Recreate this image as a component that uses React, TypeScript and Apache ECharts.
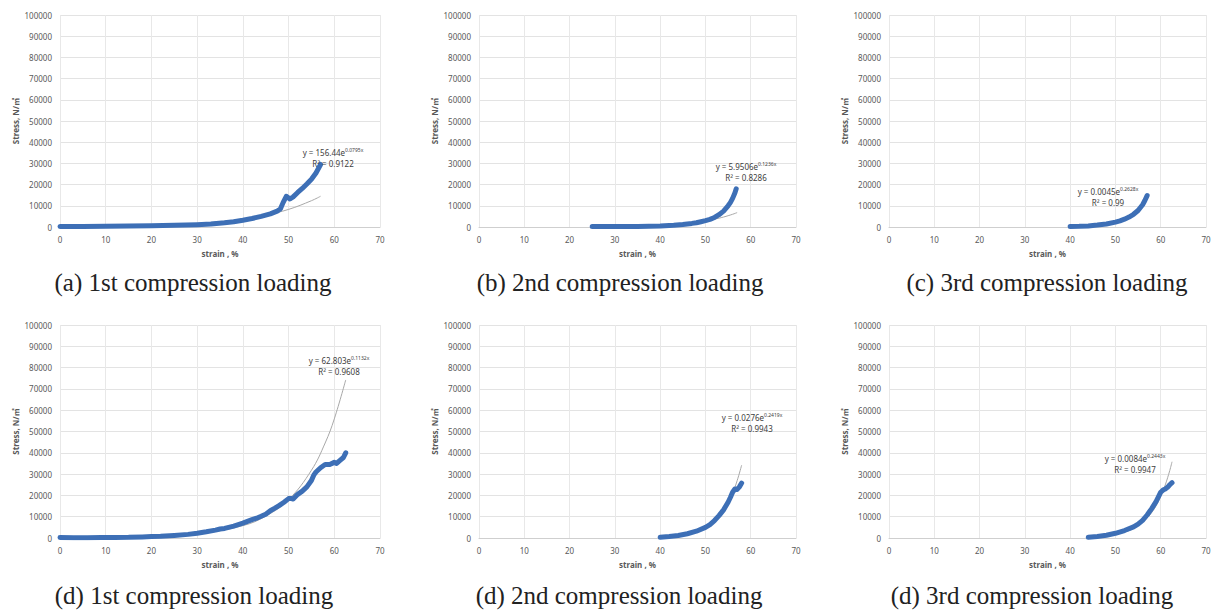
import React, { useEffect, useRef } from "react";
import * as echarts from "echarts";

// ---------- data (strain %, stress N/㎡) ----------
const dataA: number[][] = [[0,200],[5,250],[10,400],[15,500],[20,600],[25,800],[30,1100],[33,1400],[36,2000],[38,2500],[40,3200],[42,4000],[44,5000],[46,6200],[47.5,7500],[48.2,8500],[48.8,11500],[49.5,14500],[50.3,13200],[51,14200],[52,16300],[53,18200],[54,20300],[55,22500],[56,25500],[57,29500]];
const trendA: number[][] = [[0,160],[10,350],[20,770],[30,1700],[35,2500],[40,3750],[45,5600],[50,8300],[55,12400],[57,14500]];

const dataB: number[][] = [[25,200],[30,200],[35,250],[40,500],[43,800],[45,1200],[47,1700],[48,2000],[49,2500],[50,3000],[51,3600],[52,4500],[53,5800],[54,7500],[55,10000],[55.5,11500],[56,13500],[56.5,16000],[56.8,18000]];
const trendB: number[][] = [[25,130],[30,240],[35,450],[40,830],[45,1550],[50,2870],[52,3700],[54,4700],[56,6000],[57,6800]];

const dataC: number[][] = [[40,200],[42,300],[44,500],[46,900],[48,1400],[50,2300],[51,2900],[52,3700],[53,4700],[54,6000],[55,7800],[56,10500],[56.5,12500],[57,14800]];
const trendC: number[][] = [[40,165],[45,620],[50,2300],[52,3900],[54,6600],[56,11100],[57,14400]];

const dataD1: number[][] = [[0,200],[3,150],[6,150],[9,200],[12,250],[15,300],[18,500],[20,650],[22,800],[25,1200],[28,1700],[30,2200],[32,2900],[34,3700],[35,4200],[36,4500],[38,5600],[40,7000],[42,8600],[43,9300],[44,10200],[45,11200],[46,12800],[47,14000],[48,15300],[49,16800],[50,18500],[50.5,18600],[51,18300],[52,20500],[53,22000],[54,24000],[55,27000],[55.5,29500],[56,31000],[57,33000],[58,34500],[59,34500],[60,35500],[60.5,35000],[61,36000],[62,37800],[62.5,40000]];
const trendD1: number[][] = [[0,63],[10,195],[20,605],[30,1880],[40,5800],[45,10250],[50,18000],[55,31800],[58,44600],[60,55900],[62.5,74200]];

const dataD2: number[][] = [[40,300],[42,700],[44,1200],[46,2000],[48,3200],[50,5000],[51,6300],[52,8200],[53,10500],[54,13200],[55,16800],[55.5,19000],[56,21500],[56.5,23000],[57,22800],[57.5,24000],[58,25800]];
const trendD2: number[][] = [[40,440],[45,1470],[50,4940],[52,8000],[54,13000],[56,21100],[57,26900],[58,34200]];

const dataD3: number[][] = [[44,300],[46,700],[48,1300],[50,2200],[52,3500],[54,5200],[55,6500],[56,8300],[57,10800],[58,13800],[59,17200],[60,21500],[60.5,22500],[61,23000],[61.5,23800],[62,25000],[62.5,26000]];
const trendD3: number[][] = [[44,390],[48,1040],[52,2770],[55,5740],[58,11950],[60,19500],[61,24900],[62,31700],[62.5,35800]];

const captions: string[] = [
  "(a) 1st compression loading",
  "(b) 2nd compression loading",
  "(c) 3rd compression loading",
  "(d) 1st compression loading",
  "(d) 2nd compression loading",
  "(d) 3rd compression loading",
];
const eqCoef: string[] = ["156.44", "5.9506", "0.0045", "62.803", "0.0276", "0.0084"];
const eqExp: string[] = ["0.0795x", "0.1236x", "0.2628x", "0.1132x", "0.2419x", "0.2443x"];
const eqR2: string[] = ["0.9122", "0.8286", "0.99", "0.9608", "0.9943", "0.9947"];

const xTicks = { min: 0, max: 70, interval: 10 };
const yTicks = { min: 0, max: 100000, interval: 10000 };

const panels = [
  { data: dataA, trend: trendA },
  { data: dataB, trend: trendB },
  { data: dataC, trend: trendC },
  { data: dataD1, trend: trendD1 },
  { data: dataD2, trend: trendD2 },
  { data: dataD3, trend: trendD3 },
];

// ---------- layout ----------
const grids = [
  { left: 60, top: 15, width: 320, height: 212 },
  { left: 479, top: 15, width: 317, height: 212 },
  { left: 889, top: 15, width: 317, height: 212 },
  { left: 60, top: 325, width: 320, height: 213 },
  { left: 479, top: 325, width: 317, height: 213 },
  { left: 889, top: 325, width: 317, height: 213 },
];
const captionPos = [[193, 282], [620, 282], [1047, 282], [194, 595], [619, 595], [1032, 595]];
const eqPos = [[333, 158], [746, 172], [1108, 197], [339, 366], [752, 423], [1135, 464]];

const SANS = "'Noto Sans', 'Noto Sans CJK KR', sans-serif";

export default function App() {
  const ref = useRef<HTMLDivElement>(null);
  useEffect(() => {
    if (!ref.current) return;
    const chart = echarts.init(ref.current, null, { renderer: "svg" });
    const xAxis = grids.map((_, i) => ({
      type: "value",
      gridIndex: i,
      ...xTicks,
      name: "strain , %",
      nameLocation: "middle",
      nameGap: 22,
      nameTextStyle: { fontFamily: SANS, fontSize: 8, fontWeight: "bold", color: "#595959" },
      axisLine: { show: true, lineStyle: { color: "#cfcfcf", width: 1 } },
      axisTick: { show: false },
      axisLabel: { fontFamily: SANS, fontSize: 8, color: "#595959", margin: 8, formatter: (v: number) => String(v) },
      splitLine: { show: true, lineStyle: { color: "#e8e8e8", width: 1 } },
    }));
    const yAxis = grids.map((_, i) => ({
      type: "value",
      gridIndex: i,
      ...yTicks,
      name: "Stress, N/㎡",
      nameLocation: "middle",
      nameGap: 41,
      nameTextStyle: { fontFamily: SANS, fontSize: 8, fontWeight: "bold", color: "#595959" },
      axisLine: { show: false },
      axisTick: { show: false },
      axisLabel: { fontFamily: SANS, fontSize: 8, color: "#595959", margin: 8, formatter: (v: number) => String(v) },
      splitLine: { show: true, lineStyle: { color: "#e3e3e3", width: 1 } },
    }));
    const series: any[] = [];
    panels.forEach((p, i) => {
      series.push({
        type: "line",
        xAxisIndex: i,
        yAxisIndex: i,
        data: p.trend,
        smooth: 0.4,
        showSymbol: false,
        lineStyle: { color: "#a8a8a8", width: 1 },
        z: 2,
      });
      series.push({
        type: "line",
        xAxisIndex: i,
        yAxisIndex: i,
        data: p.data,
        showSymbol: false,
        lineStyle: { color: "#3d6fb6", width: 5, cap: "round", join: "round" },
        z: 3,
      });
    });
    const graphic: any[] = [];
    captions.forEach((c, i) => {
      graphic.push({
        type: "text",
        x: captionPos[i][0],
        y: captionPos[i][1],
        style: {
          text: c,
          fill: "#222",
          font: "25px 'Liberation Serif', 'DejaVu Serif', serif",
          align: "center",
          verticalAlign: "middle",
        },
        z: 10,
      });
      graphic.push({
        type: "text",
        x: eqPos[i][0],
        y: eqPos[i][1],
        style: {
          text: `{a|y = ${eqCoef[i]}e}{s|${eqExp[i]}}\n{a|R² = ${eqR2[i]}}`,
          align: "center",
          verticalAlign: "middle",
          rich: {
            a: { fontFamily: SANS, fontSize: 8, fill: "#404040", lineHeight: 11 },
            s: { fontFamily: SANS, fontSize: 5, fill: "#404040", verticalAlign: "top", lineHeight: 11 },
          },
        },
        z: 10,
      });
    });
    chart.setOption({
      animation: false,
      backgroundColor: "#ffffff",
      grid: grids.map((g) => ({ ...g, containLabel: false })),
      xAxis,
      yAxis,
      series,
      graphic,
    });
    return () => chart.dispose();
  }, []);
  return (
    <div
      ref={ref}
      style={{ position: "fixed", left: 0, top: 0, width: 1218, height: 610, background: "#fff" }}
    />
  );
}
